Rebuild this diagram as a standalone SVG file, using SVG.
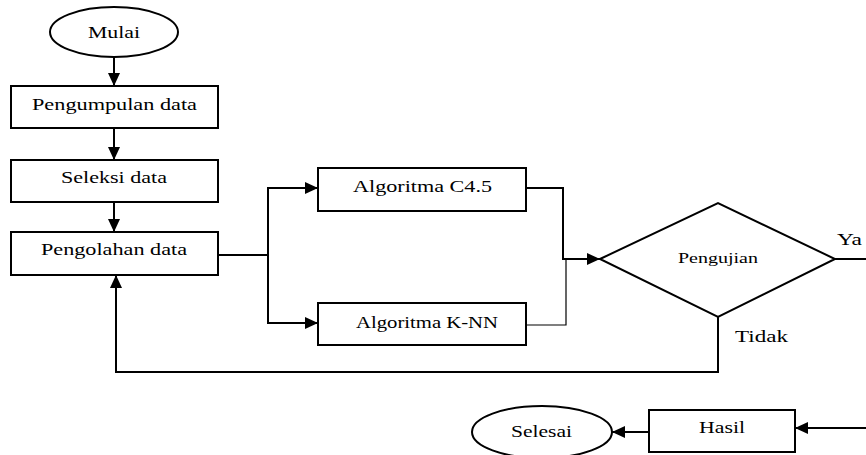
<svg xmlns="http://www.w3.org/2000/svg" width="866" height="455" viewBox="0 0 866 455">
<defs>
<style>
.s{fill:#fff;stroke:#000;stroke-width:2}
.c{fill:none;stroke:#000;stroke-width:2}
.t{font-family:"Liberation Serif","Times New Roman",serif;font-size:16.5px;fill:#000}
.sm{font-family:"Liberation Serif","Times New Roman",serif;font-size:14px;fill:#000}
</style>
<marker id="ah" markerUnits="userSpaceOnUse" markerWidth="14" markerHeight="12" refX="13" refY="6" orient="auto">
<path d="M0,0 L13,6 L0,12 Z" fill="#000"/>
</marker>
</defs>
<g id="connectors">
<line class="c" x1="114" y1="57" x2="114" y2="86" marker-end="url(#ah)"/>
<line class="c" x1="114" y1="128" x2="114" y2="160" marker-end="url(#ah)"/>
<line class="c" x1="114" y1="202" x2="114" y2="232" marker-end="url(#ah)"/>
<polyline class="c" points="218,255 268,255"/>
<polyline class="c" points="268,255 268,188 318,188" marker-end="url(#ah)"/>
<polyline class="c" points="268,255 268,323 318,323" marker-end="url(#ah)"/>
<polyline class="c" points="526,188 563,188 563,259 600,259" marker-end="url(#ah)"/>
<polyline class="c" points="526,325 566,325 566,259" style="stroke-width:1.2"/>
<line class="c" x1="835" y1="259" x2="866" y2="259"/>
<polyline class="c" points="718,317 718,372 116,372 116,275" marker-end="url(#ah)"/>
<line class="c" x1="866" y1="428" x2="795" y2="428" marker-end="url(#ah)"/>
<line class="c" x1="649" y1="432" x2="612" y2="432" marker-end="url(#ah)"/>
</g>
<g id="mulai">
<ellipse class="s" cx="114" cy="32" rx="64" ry="25"/>
<text class="t" x="88" y="38" textLength="52" lengthAdjust="spacingAndGlyphs">Mulai</text>
</g>
<g id="pengumpulan">
<rect class="s" x="11" y="86" width="207" height="42"/>
<text class="t" x="32" y="110" textLength="165" lengthAdjust="spacingAndGlyphs">Pengumpulan data</text>
</g>
<g id="seleksi">
<rect class="s" x="11" y="160" width="207" height="42"/>
<text class="t" x="61" y="183" textLength="106" lengthAdjust="spacingAndGlyphs">Seleksi data</text>
</g>
<g id="pengolahan">
<rect class="s" x="11" y="232" width="207" height="43"/>
<text class="t" x="41" y="255" textLength="146" lengthAdjust="spacingAndGlyphs">Pengolahan data</text>
</g>
<g id="c45">
<rect class="s" x="318" y="168" width="208" height="43"/>
<text class="t" x="353" y="192" textLength="139" lengthAdjust="spacingAndGlyphs">Algoritma C4.5</text>
</g>
<g id="knn">
<rect class="s" x="318" y="303" width="208" height="42"/>
<text class="t" x="356" y="328" textLength="142" lengthAdjust="spacingAndGlyphs">Algoritma K-NN</text>
</g>
<g id="pengujian">
<polygon class="s" points="600,259 718,203 835,259 718,317"/>
<text class="sm" x="678" y="263" textLength="80" lengthAdjust="spacingAndGlyphs">Pengujian</text>
</g>
<text class="t" x="837" y="245" textLength="25" lengthAdjust="spacingAndGlyphs">Ya</text>
<text class="t" x="735" y="342" textLength="53" lengthAdjust="spacingAndGlyphs">Tidak</text>
<g id="hasil">
<rect class="s" x="649" y="410" width="146" height="42"/>
<text class="t" x="699" y="433" textLength="46" lengthAdjust="spacingAndGlyphs">Hasil</text>
</g>
<g id="selesai">
<ellipse class="s" cx="542" cy="432" rx="70" ry="26"/>
<text class="t" x="511" y="437" textLength="61" lengthAdjust="spacingAndGlyphs">Selesai</text>
</g>
</svg>
